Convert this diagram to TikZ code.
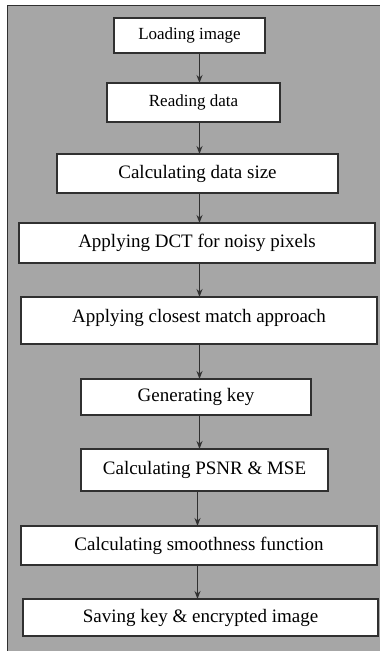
\documentclass[tikz,border=0pt]{standalone}
\usepackage{fontspec}
\setmainfont{Liberation Serif}
\usetikzlibrary{positioning,arrows.meta}

\definecolor{panelgray}{RGB}{166,166,166}
\definecolor{edgegray}{RGB}{48,48,48}

\tikzset{
  stepbox/.style={draw=edgegray, line width=1.4pt, fill=white, inner sep=0pt,
    outer sep=0pt, font=\fontsize{19}{22}\selectfont},
  smallbox/.style={stepbox, font=\fontsize{17}{20}\selectfont},
  flow/.style={draw=edgegray, line width=1.3pt, -{Stealth[length=8pt,width=6pt]}}
}

\begin{document}
\begin{tikzpicture}[x=1pt, y=-1pt]
  \useasboundingbox (0,0) rectangle (380,651);
  \clip (0,0) rectangle (380,651);
  % panel
  \fill[white] (0,0) rectangle (380,651);
  \draw[fill=panelgray, draw=edgegray, line width=1.6pt] (7.5,5.5) rectangle (392,665);

  % steps
  \node[smallbox, minimum width=151pt, minimum height=35pt] (load) at (189.5,35.5) {Loading image};
  \node[smallbox, minimum width=173pt, minimum height=39pt, below=30pt of load, xshift=4pt] (read) {Reading data};
  \node[stepbox, minimum width=281pt, minimum height=39pt, below=32pt of read, xshift=4pt] (size) {Calculating data size};
  \node[stepbox, minimum width=356pt, minimum height=40pt, below=30pt of size, xshift=-0.5pt] (dct) {Applying DCT for noisy pixels};
  \node[stepbox, minimum width=356pt, minimum height=47pt, text depth=9pt, below=34pt of dct, xshift=2pt] (match) {Applying closest match approach};
  \node[stepbox, minimum width=230pt, minimum height=36pt, below=35pt of match, xshift=-3pt] (key) {Generating key};
  \node[stepbox, minimum width=247pt, minimum height=42pt, below=34pt of key, xshift=8.5pt] (psnr) {Calculating PSNR \& MSE};
  \node[stepbox, minimum width=356pt, minimum height=39pt, below=35pt of psnr, xshift=-5.5pt] (smooth) {Calculating smoothness function};
  \node[stepbox, minimum width=355pt, minimum height=37pt, below=34pt of smooth, xshift=1.5pt] (save) {Saving key \& encrypted image};

  % arrows
  \coordinate (spine) at (199.5,0);
  \coordinate (spinelow) at (197.5,0);
  \foreach \a/\b in {load/read, read/size, size/dct, dct/match, match/key, key/psnr}
    \draw[flow] (\a.south -| spine) -- (\b.north -| spine);
  \foreach \a/\b in {psnr/smooth, smooth/save}
    \draw[flow] (\a.south -| spinelow) -- (\b.north -| spinelow);
\end{tikzpicture}
\end{document}
